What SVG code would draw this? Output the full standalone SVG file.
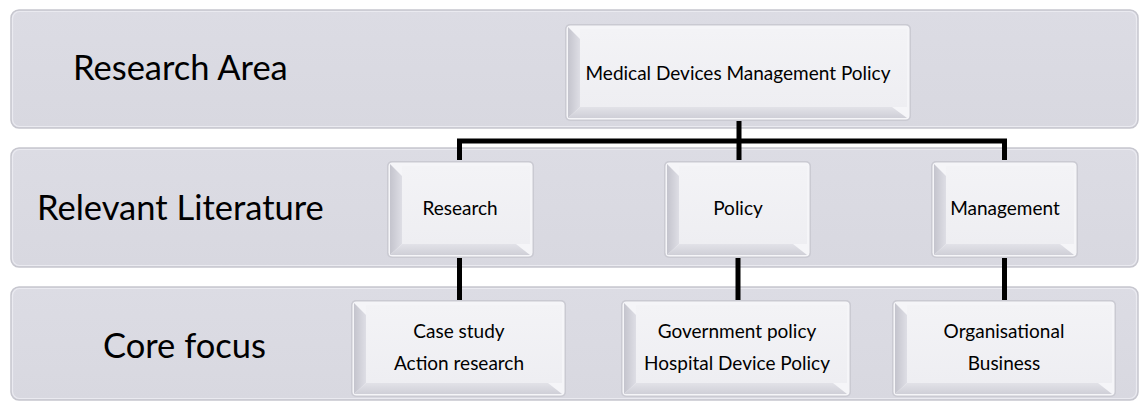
<svg xmlns="http://www.w3.org/2000/svg" width="1140" height="403" viewBox="0 0 1140 403">
<defs>
<linearGradient id="gl" x1="0" y1="0" x2="1" y2="0"><stop offset="0" stop-color="#c4c4cd"/><stop offset="1" stop-color="#dedee5"/></linearGradient>
<linearGradient id="gb" x1="0" y1="0" x2="0" y2="1"><stop offset="0" stop-color="#e2e2e8"/><stop offset="1" stop-color="#cfcfd7"/></linearGradient>
<linearGradient id="gf" x1="0" y1="0" x2="0" y2="1"><stop offset="0" stop-color="#f3f3f6"/><stop offset="1" stop-color="#eeeef2"/></linearGradient>
<linearGradient id="gband" x1="0" y1="0" x2="0" y2="1"><stop offset="0" stop-color="#dcdce4"/><stop offset="1" stop-color="#d8d8e0"/></linearGradient>
</defs>
<style>
.band{fill:url(#gband);stroke:#c6c6ce;stroke-width:1.5}
.bandhi{fill:none;stroke:#eaeaf0;stroke-width:1.2}
.shadow{fill:#cacad2}
.rim{fill:#f5f5f8}
.face{fill:url(#gf)}
.bl{fill:url(#gl)}
.bb{fill:url(#gb)}
.big{font-family:Lato,"Liberation Sans",sans-serif;font-size:34.5px;fill:#000}
.lbl{font-family:Lato,"Liberation Sans",sans-serif;font-size:19px;fill:#000;text-anchor:middle}
.conn{stroke:#000;stroke-width:5;fill:none;stroke-linecap:butt}
</style>

<g id="band-research-area">
<rect class="band" x="11" y="10" width="1127" height="118" rx="8"/>
<rect class="bandhi" x="12.5" y="11.5" width="1124" height="115" rx="7"/>
<text class="big" x="73" y="80">Research Area</text>
</g>
<g id="band-relevant-literature">
<rect class="band" x="11" y="148" width="1127" height="119" rx="8"/>
<rect class="bandhi" x="12.5" y="149.5" width="1124" height="116" rx="7"/>
<text class="big" x="37" y="220">Relevant Literature</text>
</g>
<g id="band-core-focus">
<rect class="band" x="11" y="287" width="1127" height="113" rx="8"/>
<rect class="bandhi" x="12.5" y="288.5" width="1124" height="110" rx="7"/>
<text class="big" x="103" y="358">Core focus</text>
</g>

<g id="connectors">
<path class="conn" d="M739 120 V160"/>
<path class="conn" d="M459.5 160 V141 H1004.5 V160"/>
<path class="conn" d="M459.5 256 V300"/>
<path class="conn" d="M738 256 V300"/>
<path class="conn" d="M1004.5 256 V300"/>
</g>

<g id="node-mdmp">
<rect class="shadow" x="565" y="24" width="346" height="97" rx="5"/>
<rect class="rim" x="566.5" y="25.5" width="343" height="94" rx="4"/>
<polygon class="bl" points="568,27 580,39 580,107 568,118"/>
<polygon class="bb" points="568,118 580,107 892,107 907,118"/>
<rect class="face" x="580" y="29" width="327" height="78"/>
<text class="lbl" x="738" y="80">Medical Devices Management Policy</text>
</g>

<g id="node-research">
<rect class="shadow" x="387" y="161" width="147" height="97" rx="5"/>
<rect class="rim" x="388.5" y="162.5" width="144" height="94" rx="4"/>
<polygon class="bl" points="390,164 402,176 402,244 390,255"/>
<polygon class="bb" points="390,255 402,244 516,244 530,255"/>
<rect class="face" x="402" y="166" width="128" height="78"/>
<text class="lbl" x="460" y="215">Research</text>
</g>

<g id="node-policy">
<rect class="shadow" x="664" y="161" width="147" height="97" rx="5"/>
<rect class="rim" x="665.5" y="162.5" width="144" height="94" rx="4"/>
<polygon class="bl" points="667,164 679,176 679,244 667,255"/>
<polygon class="bb" points="667,255 679,244 793,244 807,255"/>
<rect class="face" x="679" y="166" width="128" height="78"/>
<text class="lbl" x="738" y="215">Policy</text>
</g>

<g id="node-management">
<rect class="shadow" x="931" y="161" width="147" height="97" rx="5"/>
<rect class="rim" x="932.5" y="162.5" width="144" height="94" rx="4"/>
<polygon class="bl" points="934,164 946,176 946,244 934,255"/>
<polygon class="bb" points="934,255 946,244 1060,244 1074,255"/>
<rect class="face" x="946" y="166" width="128" height="78"/>
<text class="lbl" x="1005" y="215">Management</text>
</g>

<g id="node-case-study">
<rect class="shadow" x="351" y="300" width="215" height="97" rx="5"/>
<rect class="rim" x="352.5" y="301.5" width="212" height="94" rx="4"/>
<polygon class="bl" points="354,303 366,315 366,383 354,394"/>
<polygon class="bb" points="354,394 366,383 548,383 562,394"/>
<rect class="face" x="366" y="305" width="196" height="78"/>
<text class="lbl" x="459" y="338">Case study</text>
<text class="lbl" x="459" y="370">Action research</text>
</g>

<g id="node-government">
<rect class="shadow" x="621" y="300" width="230" height="97" rx="5"/>
<rect class="rim" x="622.5" y="301.5" width="227" height="94" rx="4"/>
<polygon class="bl" points="624,303 636,315 636,383 624,394"/>
<polygon class="bb" points="624,394 636,383 833,383 847,394"/>
<rect class="face" x="636" y="305" width="211" height="78"/>
<text class="lbl" x="737" y="338">Government policy</text>
<text class="lbl" x="737" y="370">Hospital Device Policy</text>
</g>

<g id="node-organisational">
<rect class="shadow" x="892" y="300" width="224" height="97" rx="5"/>
<rect class="rim" x="893.5" y="301.5" width="221" height="94" rx="4"/>
<polygon class="bl" points="895,303 907,315 907,383 895,394"/>
<polygon class="bb" points="895,394 907,383 1098,383 1112,394"/>
<rect class="face" x="907" y="305" width="205" height="78"/>
<text class="lbl" x="1004" y="338">Organisational</text>
<text class="lbl" x="1004" y="370">Business</text>
</g>
</svg>
